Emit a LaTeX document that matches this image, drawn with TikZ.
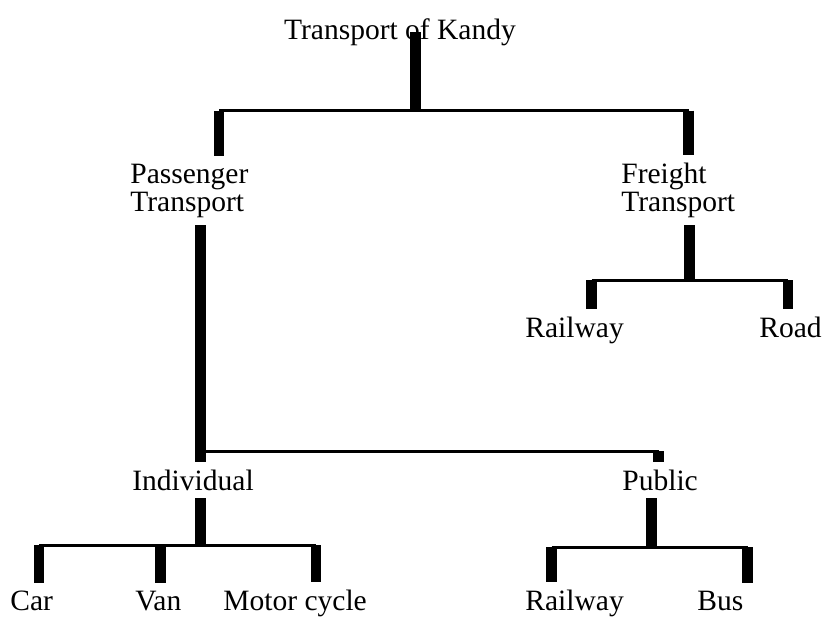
\documentclass[tikz,border=0pt]{standalone}
\usepackage{fontspec}
\setmainfont{Liberation Serif}

\begin{document}
\begin{tikzpicture}[
    label/.style={inner xsep=0pt, inner ysep=0.15cm, font=\fontsize{16.8}{15.9}\selectfont},
    bar/.style={line width=0.21cm},
    wire/.style={line width=0.06cm}]
\useasboundingbox (0,0) rectangle (16.52,-12.34);

% Main nodes
\node (kandy) [label, anchor=base] at (8.00,-0.78) {Transport of Kandy};

% two-line labels sit on the baseline of their last line
\node (pas) [label, anchor=base west, align=left] at (2.60,-4.22) {Passenger\\Transport};
\node (fre) [label, anchor=base west, align=left] at (12.42,-4.22) {Freight\\Transport};

\node (frail) [label, anchor=base west] at (10.50,-6.74) {Railway};
\node (road) [label, anchor=base east] at (16.44,-6.74) {Road};

\node (ind) [label, anchor=base west] at (2.64,-9.80) {Individual};
\node (pub) [label, anchor=base west] at (12.44,-9.80) {Public};

\node (car) [label, anchor=base west] at (0.20,-12.20) {Car};
\node (van) [label, anchor=base west] at (2.70,-12.20) {Van};
\node (motor) [label, anchor=base west] at (4.46,-12.20) {Motor cycle};
\node (prail) [label, anchor=base west] at (10.50,-12.20) {Railway};
\node (bus) [label, anchor=base west] at (13.94,-12.20) {Bus};

% Forks on the thin lines
\coordinate (kandyfork) at (8.31,-2.21);
\coordinate (pasfork) at (4.38,-2.21);
\coordinate (frefork) at (13.77,-2.21);
\coordinate (indfork) at (4.01,-9.02);
\coordinate (pubfork) at (13.17,-9.02);
\coordinate (frelow) at (13.79,-5.60);
\coordinate (frailfork) at (11.83,-5.60);
\coordinate (roadfork) at (15.76,-5.60);
\coordinate (indlow) at (4.01,-10.90);
\coordinate (carfork) at (0.78,-10.90);
\coordinate (vanfork) at (3.21,-10.90);
\coordinate (motorfork) at (6.32,-10.90);
\coordinate (publow) at (13.03,-10.94);
\coordinate (prailfork) at (11.03,-10.94);
\coordinate (busfork) at (14.95,-10.94);

% Top level
\draw [bar] (kandy.center -| kandyfork) -- (kandyfork);
\draw [wire] (pasfork) -- (frefork);
\draw [bar] (pasfork) -- (pasfork |- pas.north);
\draw [bar] (frefork) -- (frefork |- fre.north);

% Passenger branch
\draw [bar] (pas.south -| indfork) -- (ind.north -| indfork);
\draw [wire] (indfork) -- (pubfork);
\draw [bar] (pubfork) -- (pubfork |- pub.north);

% Freight branch
\draw [bar] (fre.south -| frelow) -- (frelow);
\draw [wire] (frailfork) -- (roadfork);
\draw [bar] (frailfork) -- (frailfork |- frail.north);
\draw [bar] (roadfork) -- (roadfork |- road.north);

% Individual and public
\draw [bar] (ind.south -| indlow) -- (indlow);
\draw [wire] (carfork) -- (motorfork);
\foreach \k in {car,van,motor}
    \draw [bar] (\k fork) -- (\k fork |- \k.north);

\draw [bar] (pub.south -| publow) -- (publow);
\draw [wire] (prailfork) -- (busfork);
\foreach \k in {prail,bus}
    \draw [bar] (\k fork) -- (\k fork |- \k.north);
\end{tikzpicture}
\end{document}
